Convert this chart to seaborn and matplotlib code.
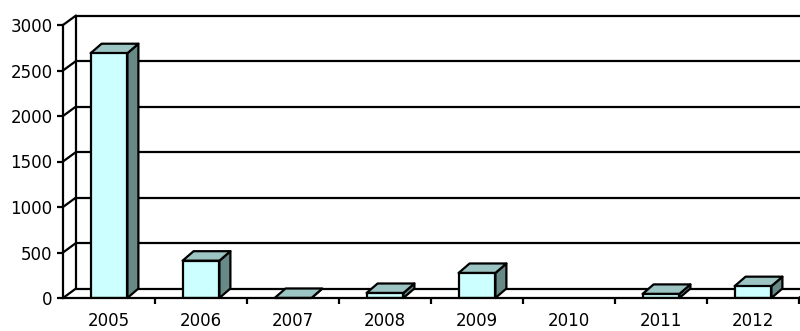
import numpy as np
import pandas as pd
import matplotlib
matplotlib.use("Agg")
import matplotlib.pyplot as plt
from matplotlib.patches import Polygon
import seaborn as sns

# Yearly totals (2010 has no entry)
years = ["2005", "2006", "2007", "2008", "2009", "2010", "2011", "2012"]
values = [2690, 410, 0, 55, 275, np.nan, 45, 130]
y_ticks = [0, 500, 1000, 1500, 2000, 2500, 3000]

FRONT = "#CCFFFF"
TOP = "#9CC4C2"
SIDE = "#678A87"
LW = 1.6

sns.set_theme(style="white")
plt.rcParams["font.family"] = ["DejaVu Sans"]

fig = plt.figure(figsize=(8, 3.31), dpi=100)
W, H = 800, 331
ax = fig.add_axes([63 / W, (H - 298) / H, 736 / W, 273 / H])
ax.set_xlim(-0.5, 7.5)
ax.set_ylim(0, 3000)

# pixels per data unit, used to express the 3-D depth offsets
sx = ax.transData.transform((1, 0))[0] - ax.transData.transform((0, 0))[0]
sy = ax.transData.transform((0, 1))[1] - ax.transData.transform((0, 0))[1]
wdx, wdy = 13 / sx, 9.5 / sy   # depth of the floor / side wall
bdx, bdy = 11 / sx, 9.5 / sy   # depth of each column

df = pd.DataFrame({"year": years, "value": values})
sns.barplot(data=df, x="year", y="value", order=years, width=0.4,
            color=FRONT, saturation=1, edgecolor="black", linewidth=LW,
            errorbar=None, ax=ax, zorder=3)
ax.set_xlim(-0.5, 7.5)
ax.set_ylim(0, 3000)

# back wall gridlines and side-wall diagonals
for v in y_ticks:
    ax.plot([-0.5 + wdx, 9], [v + wdy, v + wdy], color="black", lw=LW,
            clip_on=False, zorder=1, solid_capstyle="butt")
    ax.plot([-0.5, -0.5 + wdx], [v, v + wdy], color="black", lw=LW,
            clip_on=False, zorder=1)
ax.plot([-0.5 + wdx, -0.5 + wdx], [wdy, 3000 + wdy], color="black", lw=LW,
        clip_on=False, zorder=1)
ax.plot([7.5, 7.5 + wdx], [0, wdy], color="black", lw=LW, clip_on=False, zorder=1)

# top and side faces of each column
for p in ax.patches:
    h = p.get_height()
    if not np.isfinite(h):
        continue
    x0, w = p.get_x(), p.get_width()
    top = [(x0, h), (x0 + w, h), (x0 + w + bdx, h + bdy), (x0 + bdx, h + bdy)]
    side = [(x0 + w, 0), (x0 + w + bdx, bdy), (x0 + w + bdx, h + bdy), (x0 + w, h)]
    ax.add_patch(Polygon(side, closed=True, facecolor=SIDE, edgecolor="black",
                         lw=LW, zorder=2.6, clip_on=False, joinstyle="round"))
    ax.add_patch(Polygon(top, closed=True, facecolor=TOP, edgecolor="black",
                         lw=LW, zorder=2.6, clip_on=False, joinstyle="round"))

# axes styling
for s in ["top", "right"]:
    ax.spines[s].set_visible(False)
for s in ["left", "bottom"]:
    ax.spines[s].set_color("black")
    ax.spines[s].set_linewidth(LW)
    ax.spines[s].set_zorder(4)

ax.set_yticks(y_ticks)
ax.set_yticklabels([str(v) for v in y_ticks])
ax.tick_params(axis="y", direction="out", length=4.5, width=LW, pad=3,
               labelsize=12, colors="black", left=True)
ax.set_xticks(range(len(years)))
ax.set_xticklabels(years)
ax.tick_params(axis="x", which="major", length=0, pad=10, labelsize=12,
               colors="black")
ax.set_xticks(np.arange(0.5, 8, 1), minor=True)
ax.tick_params(axis="x", which="minor", direction="out", length=4, width=LW,
               colors="black", bottom=True)
ax.set_xlabel("")
ax.set_ylabel("")
ax.grid(False)
ax.patch.set_alpha(0)

fig.savefig("out.png", dpi=100, facecolor="white")
